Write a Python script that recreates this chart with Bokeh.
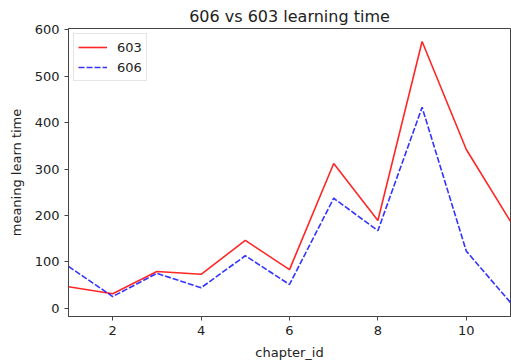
from bokeh.plotting import figure
from bokeh.models import Range1d, FixedTicker, Legend, LegendItem
from bokeh.embed import file_html
from bokeh.resources import INLINE

chapter_id = [1, 2, 3, 4, 5, 6, 7, 8, 9, 10, 11]
time_603 = [46, 31, 79, 73, 146, 83, 312, 189, 575, 342, 187]
time_606 = [90, 25, 75, 44, 113, 51, 237, 167, 433, 123, 12]
x_ticks = [2, 4, 6, 8, 10]
y_ticks = [0, 100, 200, 300, 400, 500, 600]

FONT = "DejaVu Sans"
TXT = "#222222"

p = figure(width=511, height=364, output_backend="svg", toolbar_location=None,
           x_range=Range1d(1, 11), y_range=Range1d(-18, 603),
           min_border_left=68, min_border_right=1, min_border_bottom=48, min_border_top=28)

p.title.text = "606 vs 603 learning time"
p.title.align = "center"
p.title.text_font = FONT
p.title.text_font_size = "16px"
p.title.text_font_style = "normal"
p.title.text_color = TXT
p.title.standoff = 5

p.xgrid.visible = False
p.ygrid.visible = False
p.outline_line_color = "#444444"
p.outline_line_width = 1
p.background_fill_color = "white"

for ax in (p.xaxis, p.yaxis):
    ax.axis_line_color = "#444444"
    ax.major_tick_line_color = "#444444"
    ax.major_tick_out = 4
    ax.major_tick_in = 0
    ax.minor_tick_line_color = None
    ax.major_label_text_font = FONT
    ax.major_label_text_font_size = "13px"
    ax.major_label_text_color = TXT
    ax.axis_label_text_font = FONT
    ax.axis_label_text_font_size = "13px"
    ax.axis_label_text_font_style = "normal"
    ax.axis_label_text_color = TXT

p.xaxis.ticker = FixedTicker(ticks=x_ticks)
p.yaxis.ticker = FixedTicker(ticks=y_ticks)
p.xaxis.axis_label = "chapter_id"
p.yaxis.axis_label = "meaning learn time"
p.xaxis.major_label_standoff = 5
p.yaxis.major_label_standoff = 5
p.xaxis.axis_label_standoff = 7
p.yaxis.axis_label_standoff = 8

r1 = p.line(chapter_id, time_603, line_color="red", line_alpha=0.85, line_width=1.6)
r2 = p.line(chapter_id, time_606, line_color="blue", line_alpha=0.8, line_width=1.6,
            line_dash="6 2")

legend = Legend(items=[LegendItem(label="603", renderers=[r1]),
                       LegendItem(label="606", renderers=[r2])],
                location="top_left")
legend.label_text_font = FONT
legend.label_text_font_size = "13px"
legend.label_text_color = TXT
legend.border_line_color = "#cccccc"
legend.border_line_width = 1
legend.margin = 5
legend.padding = 4
legend.spacing = 2
legend.glyph_width = 29
legend.glyph_height = 18
legend.label_standoff = 10
legend.label_height = 18
p.add_layout(legend)

open("out.html", "w").write(file_html(p, INLINE))
